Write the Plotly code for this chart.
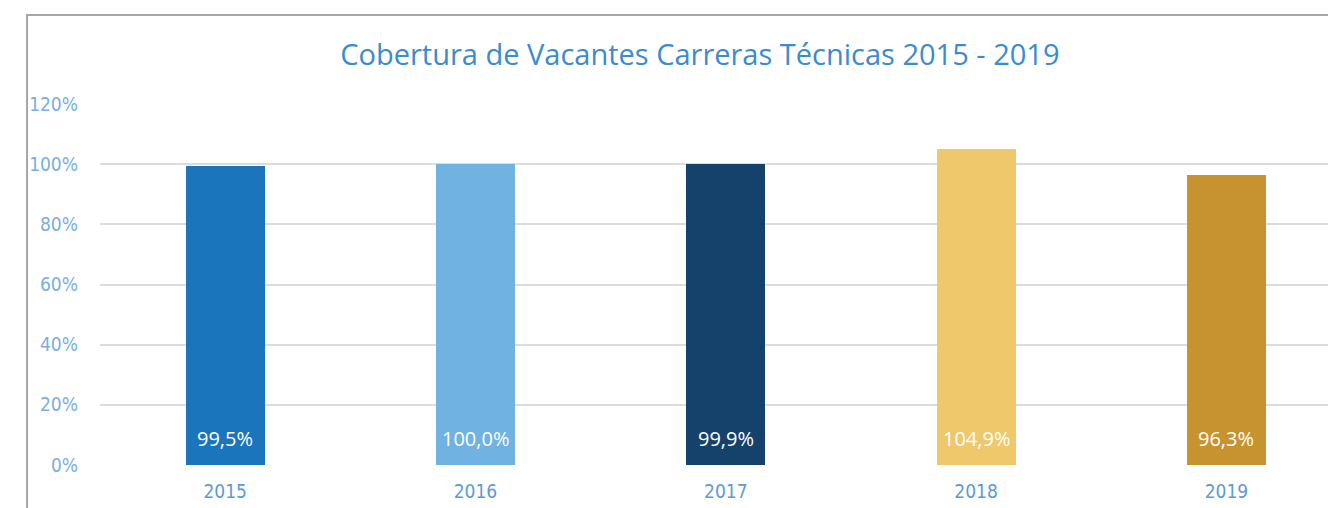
import plotly.graph_objects as go

# data
years = ["2015", "2016", "2017", "2018", "2019"]
coverage = [0.995, 1.000, 0.999, 1.049, 0.963]
labels = ["99,5%", "100,0%", "99,9%", "104,9%", "96,3%"]
bar_colors = ["#1b75bc", "#70b2e2", "#14426b", "#eec86a", "#c7932e"]
y_ticks = [0, 0.2, 0.4, 0.6, 0.8, 1.0, 1.2]
y_tick_text = ["0%", "20%", "40%", "60%", "80%", "100%", "120%"]

narrow = "DejaVu Sans Condensed, Liberation Sans Narrow, Lato, sans-serif"

fig = go.Figure()

fig.add_trace(go.Bar(
    x=years,
    y=coverage,
    marker=dict(color=bar_colors, line=dict(width=0)),
    width=0.316,
    hoverinfo="skip",
))

# value labels sit near the base of each bar (x by category index)
for i, lab in enumerate(labels):
    fig.add_annotation(
        x=i, y=0, xref="x", yref="y", text=lab, showarrow=False,
        yanchor="bottom", yshift=11,
        font=dict(family="Open Sans", size=20, color="white"),
    )

# chart frame (cropped at right and bottom in the reference)
fig.add_shape(
    type="rect", xref="paper", yref="paper",
    x0=-0.0594, x1=1.2, y0=-0.5, y1=1.2465,
    line=dict(color="#a6a6a6", width=2),
    layer="above",
)

fig.update_layout(
    width=1328, height=508,
    margin=dict(l=100, r=0, t=104, b=43),
    paper_bgcolor="white",
    plot_bgcolor="white",
    showlegend=False,
    title=dict(
        text="Cobertura de Vacantes Carreras Técnicas 2015 - 2019",
        x=0.527, xanchor="center", y=0.893, yanchor="middle",
        font=dict(family="Open Sans", size=29, color="#3a8bd0"),
    ),
    xaxis=dict(
        type="category",
        range=[-0.5, 4.406],
        showgrid=False, zeroline=False, showline=False,
        tickfont=dict(family=narrow, size=19, color="#5b9bd5"),
        ticks="", ticklabelstandoff=13,
    ),
    yaxis=dict(
        range=[0, 1.2],
        tickvals=y_ticks, ticktext=y_tick_text,
        showgrid=True, gridcolor="#dcdcdc", gridwidth=1.5,
        zeroline=False, showline=False,
        tickfont=dict(family=narrow, size=19, color="#7aaedf"),
        ticks="", ticklabelstandoff=21,
    ),
    bargap=0,
)

fig.write_html("out.html", config={"displayModeBar": False},
               post_script="document.body.style.margin='0';")
